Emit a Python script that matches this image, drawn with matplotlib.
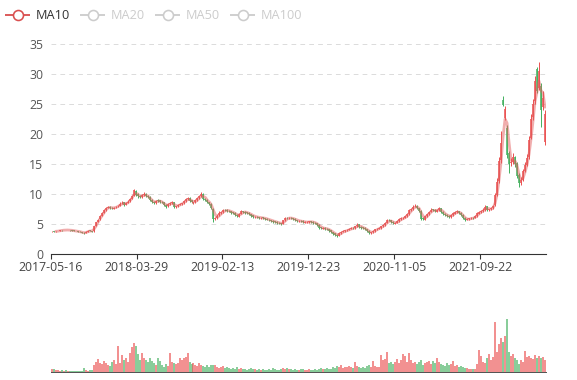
import matplotlib
matplotlib.use("Agg")
import matplotlib.pyplot as plt
import numpy as np
import pandas as pd

plt.rcParams['font.family'] = ['Open Sans', 'DejaVu Sans']
plt.rcParams['lines.scale_dashes'] = False

# ---------------- data (each candle ~ one trading week) ----------------
tick_labels = ['2017-05-16', '2018-03-29', '2019-02-13', '2019-12-23', '2020-11-05', '2021-09-22']
legend_names = ['MA10', 'MA20', 'MA50', 'MA100']
legend_active = [True, False, False, False]

open_ = [
    3.78, 3.8, 3.76, 3.82, 3.9, 3.97, 3.96, 4.02, 3.98, 4.0,
    3.93, 3.9, 3.84, 3.8, 3.72, 3.63, 3.55, 3.5, 3.72, 3.92,
    3.85, 3.8, 4.7, 5.4, 5.8, 6.4, 6.9, 7.35, 7.75, 7.9,
    7.75, 7.55, 7.8, 7.95, 8.05, 8.45, 8.6, 8.25, 8.55, 8.8,
    9.25, 9.7, 10.5, 9.95, 9.65, 9.45, 9.85, 10.05, 9.75, 9.55,
    9.05, 8.75, 8.45, 8.95, 8.95, 8.75, 8.65, 8.25, 7.95, 8.35,
    8.55, 8.65, 7.85, 7.95, 8.25, 8.35, 8.45, 8.85, 9.15, 9.35,
    8.95, 8.55, 8.65, 9.05, 9.35, 9.65, 10.05, 9.25, 9.05, 8.65,
    8.35, 7.5, 5.8, 6.05, 6.45, 6.85, 7.05, 7.35, 7.35, 7.25,
    7.15, 6.95, 6.85, 6.55, 6.25, 6.75, 7.15, 7.05, 6.95, 6.85,
    6.65, 6.45, 6.15, 6.25, 6.1, 5.95, 6.1, 5.95, 5.9, 5.75,
    5.65, 5.55, 5.45, 5.35, 5.25, 5.15, 5.05, 5.6, 6.05, 5.95,
    6.05, 5.95, 5.85, 5.6, 5.45, 5.55, 5.5, 5.25, 5.3, 5.35,
    5.45, 5.4, 5.25, 5.15, 4.85, 4.45, 4.25, 4.35, 4.25, 4.15,
    3.95, 3.65, 3.45, 3.25, 3.05, 3.45, 3.75, 3.85, 3.95, 4.05,
    4.2, 4.35, 4.3, 4.6, 4.95, 4.55, 4.45, 4.35, 4.15, 3.85,
    3.45, 3.65, 3.85, 4.15, 4.25, 4.35, 4.65, 4.85, 5.25, 5.7,
    5.65, 5.35, 5.05, 5.25, 5.45, 5.85, 5.95, 6.05, 6.3, 6.65,
    7.35, 7.45, 7.95, 8.05, 7.65, 7.25, 5.95, 5.75, 6.35, 6.6,
    7.05, 7.45, 7.35, 7.05, 7.35, 7.65, 7.05, 6.75, 6.55, 6.35,
    6.15, 6.45, 6.75, 7.05, 7.15, 6.85, 6.55, 6.05, 5.7, 5.85,
    5.95, 6.05, 6.05, 6.3, 6.75, 7.05, 7.15, 7.35, 7.95, 7.35,
    7.45, 7.65, 8.1, 9.9, 12.2, 15.6, 25.7, 22.7, 21.0, 16.8,
    15.2, 15.4, 16.1, 15.1, 13.2, 11.9, 12.4, 13.9, 14.9, 16.2,
    19.4, 22.8, 25.5, 30.9, 27.6, 28.0, 24.5, 18.6,
]
close = [
    3.8, 3.75, 3.8, 3.85, 3.95, 3.95, 4.0, 4.0, 4.0, 3.95,
    3.9, 3.85, 3.8, 3.75, 3.65, 3.55, 3.45, 3.7, 3.9, 3.85,
    3.72, 4.6, 5.3, 5.7, 6.3, 6.8, 7.3, 7.7, 7.85, 7.7,
    7.6, 7.75, 7.9, 8.0, 8.4, 8.55, 8.2, 8.5, 8.75, 9.2,
    9.6, 10.6, 9.9, 9.6, 9.5, 9.8, 10.0, 9.7, 9.5, 9.0,
    8.7, 8.5, 8.9, 8.9, 8.7, 8.6, 8.2, 7.9, 8.3, 8.5,
    8.6, 7.9, 7.9, 8.2, 8.3, 8.4, 8.8, 9.1, 9.3, 8.9,
    8.6, 8.6, 9.0, 9.3, 9.6, 10.0, 9.2, 9.0, 8.6, 8.3,
    7.6, 5.9, 6.0, 6.4, 6.8, 7.0, 7.3, 7.3, 7.2, 7.1,
    6.9, 6.8, 6.5, 6.3, 6.7, 7.1, 7.0, 6.9, 6.8, 6.6,
    6.4, 6.2, 6.2, 6.1, 6.0, 6.05, 5.95, 5.85, 5.75, 5.6,
    5.5, 5.4, 5.3, 5.2, 5.1, 5.0, 5.6, 5.95, 6.0, 6.0,
    5.95, 5.8, 5.6, 5.5, 5.5, 5.45, 5.3, 5.3, 5.35, 5.4,
    5.35, 5.2, 5.1, 4.8, 4.4, 4.3, 4.3, 4.2, 4.1, 3.9,
    3.6, 3.4, 3.2, 3.05, 3.5, 3.7, 3.8, 3.9, 4.0, 4.2,
    4.3, 4.3, 4.6, 4.9, 4.5, 4.4, 4.3, 4.1, 3.8, 3.5,
    3.6, 3.9, 4.1, 4.2, 4.4, 4.6, 4.8, 5.2, 5.6, 5.6,
    5.3, 5.1, 5.2, 5.5, 5.8, 5.9, 6.0, 6.3, 6.6, 7.3,
    7.5, 7.9, 8.0, 7.6, 7.2, 5.9, 5.8, 6.3, 6.6, 7.0,
    7.4, 7.3, 7.1, 7.4, 7.6, 7.0, 6.7, 6.5, 6.3, 6.2,
    6.5, 6.8, 7.0, 7.1, 6.8, 6.5, 6.0, 5.7, 5.8, 5.9,
    6.0, 6.0, 6.3, 6.8, 7.0, 7.1, 7.4, 7.9, 7.4, 7.4,
    7.6, 8.0, 9.8, 12.0, 15.5, 18.5, 24.8, 24.2, 16.5, 15.0,
    15.3, 16.2, 15.0, 13.0, 11.8, 12.3, 13.8, 14.8, 16.0, 19.0,
    22.5, 25.0, 28.8, 27.2, 30.5, 24.0, 26.0, 23.4,
]
high = [
    3.85, 3.84, 3.85, 3.9, 4.0, 4.02, 4.06, 4.08, 4.05, 4.04,
    3.98, 3.95, 3.9, 3.85, 3.78, 3.68, 3.6, 3.78, 4.0, 3.98,
    3.9, 4.7, 5.4, 5.9, 6.5, 7.0, 7.5, 7.9, 8.0, 8.05,
    7.9, 7.9, 8.05, 8.2, 8.6, 8.8, 8.7, 8.65, 8.95, 9.4,
    9.85, 10.9, 10.7, 10.1, 9.8, 10.0, 10.3, 10.15, 9.85, 9.65,
    9.15, 8.85, 9.05, 9.1, 9.05, 8.85, 8.75, 8.35, 8.45, 8.7,
    8.8, 8.7, 8.05, 8.35, 8.45, 8.55, 9.0, 9.3, 9.55, 9.45,
    9.05, 8.75, 9.15, 9.45, 9.8, 10.4, 10.15, 9.35, 9.15, 8.75,
    8.45, 7.6, 6.2, 6.6, 7.1, 7.2, 7.55, 7.5, 7.45, 7.35,
    7.25, 7.05, 6.95, 6.65, 6.85, 7.3, 7.25, 7.15, 7.05, 6.95,
    6.75, 6.55, 6.35, 6.35, 6.2, 6.2, 6.2, 6.05, 6.0, 5.85,
    5.75, 5.65, 5.55, 5.45, 5.35, 5.25, 5.75, 6.15, 6.2, 6.15,
    6.15, 6.05, 5.95, 5.7, 5.65, 5.65, 5.6, 5.45, 5.5, 5.55,
    5.55, 5.5, 5.35, 5.25, 4.95, 4.55, 4.45, 4.45, 4.35, 4.25,
    4.05, 3.75, 3.55, 3.3, 3.6, 3.85, 3.95, 4.05, 4.15, 4.35,
    4.45, 4.45, 4.75, 5.1, 5.05, 4.65, 4.55, 4.45, 4.25, 3.95,
    3.75, 4.05, 4.25, 4.35, 4.55, 4.75, 5.0, 5.4, 5.85, 5.9,
    5.75, 5.45, 5.35, 5.65, 5.95, 6.1, 6.2, 6.5, 6.85, 7.5,
    7.75, 8.1, 8.3, 8.15, 7.75, 7.35, 6.1, 6.45, 6.8, 7.2,
    7.6, 7.55, 7.45, 7.55, 7.85, 7.75, 7.15, 6.85, 6.65, 6.45,
    6.65, 6.95, 7.2, 7.3, 7.25, 6.95, 6.65, 6.15, 5.95, 6.05,
    6.15, 6.15, 6.45, 6.95, 7.2, 7.3, 7.6, 8.1, 8.05, 7.55,
    7.8, 8.2, 10.2, 12.6, 16.2, 20.5, 26.3, 24.6, 21.5, 17.2,
    16.0, 16.8, 16.4, 15.3, 13.5, 12.9, 14.2, 15.3, 16.6, 19.6,
    23.4, 25.8, 29.6, 31.2, 32.0, 28.5, 27.2, 24.0,
]
low = [
    3.72, 3.7, 3.72, 3.78, 3.86, 3.9, 3.92, 3.95, 3.94, 3.9,
    3.85, 3.8, 3.76, 3.7, 3.6, 3.5, 3.4, 3.45, 3.68, 3.8,
    3.65, 3.75, 4.6, 5.3, 5.7, 6.3, 6.8, 7.2, 7.6, 7.55,
    7.45, 7.5, 7.7, 7.8, 7.95, 8.3, 8.05, 8.1, 8.45, 8.7,
    9.1, 9.6, 9.7, 9.4, 9.3, 9.35, 9.7, 9.55, 9.35, 8.85,
    8.55, 8.35, 8.35, 8.75, 8.55, 8.45, 8.05, 7.75, 7.85, 8.25,
    8.4, 7.75, 7.7, 7.85, 8.1, 8.2, 8.35, 8.7, 9.0, 8.75,
    8.45, 8.4, 8.55, 8.9, 9.2, 9.5, 9.05, 8.85, 8.45, 8.15,
    7.45, 5.4, 5.6, 5.9, 6.35, 6.7, 6.9, 7.15, 7.05, 6.95,
    6.75, 6.65, 6.35, 6.15, 6.15, 6.65, 6.85, 6.75, 6.65, 6.45,
    6.25, 6.05, 6.05, 5.95, 5.85, 5.85, 5.8, 5.7, 5.6, 5.45,
    5.35, 5.25, 5.15, 5.05, 4.95, 4.85, 4.95, 5.5, 5.85, 5.85,
    5.8, 5.65, 5.45, 5.35, 5.35, 5.3, 5.15, 5.15, 5.2, 5.25,
    5.2, 5.05, 4.95, 4.65, 4.25, 4.15, 4.15, 4.05, 3.95, 3.75,
    3.45, 3.25, 3.05, 2.85, 2.95, 3.35, 3.65, 3.75, 3.85, 3.95,
    4.1, 4.15, 4.2, 4.5, 4.35, 4.25, 4.15, 3.95, 3.65, 3.35,
    3.35, 3.55, 3.75, 4.0, 4.15, 4.25, 4.55, 4.75, 5.15, 5.45,
    5.15, 4.95, 4.95, 5.15, 5.35, 5.7, 5.8, 5.95, 6.2, 6.55,
    7.2, 7.35, 7.8, 7.45, 7.0, 5.6, 5.6, 5.65, 6.2, 6.5,
    6.95, 7.15, 6.95, 6.95, 7.25, 6.85, 6.55, 6.35, 6.15, 6.05,
    6.05, 6.35, 6.65, 6.9, 6.65, 6.35, 5.85, 5.55, 5.6, 5.75,
    5.85, 5.85, 5.95, 6.2, 6.65, 6.9, 7.05, 7.25, 7.25, 7.2,
    7.3, 7.5, 8.0, 9.7, 11.9, 15.2, 24.6, 22.3, 16.0, 13.5,
    14.6, 15.0, 14.5, 12.6, 11.2, 11.5, 12.2, 13.6, 14.6, 15.9,
    19.1, 22.3, 25.0, 26.8, 27.3, 21.2, 24.0, 18.2,
]
volume = [
    3, 3, 2, 2, 1, 2, 1, 2, 1, 1,
    1, 1, 1, 1, 1, 1, 4, 2, 1, 2,
    2, 7, 10, 13, 9, 8, 11, 9, 7, 6,
    10, 12, 8, 26, 9, 17, 12, 14, 10, 19,
    25, 29, 26, 18, 12, 19, 14, 12, 10, 14,
    11, 9, 7, 14, 11, 7, 5, 8, 6, 19,
    10, 9, 8, 9, 14, 12, 14, 15, 19, 10,
    8, 9, 7, 6, 9, 7, 6, 5, 7, 5,
    7, 7, 7, 5, 4, 5, 6, 4, 5, 4,
    3, 4, 3, 5, 3, 4, 3, 3, 2, 3,
    4, 3, 3, 2, 3, 2, 3, 2, 2, 3,
    2, 4, 3, 2, 2, 3, 4, 3, 4, 3,
    3, 2, 3, 2, 2, 3, 3, 2, 2, 3,
    2, 2, 3, 2, 3, 4, 3, 3, 4, 3,
    3, 5, 4, 6, 5, 7, 4, 5, 5, 6,
    5, 4, 10, 6, 5, 4, 5, 4, 6, 7,
    5, 11, 6, 5, 5, 17, 12, 13, 20, 9,
    10, 8, 10, 13, 9, 12, 18, 16, 10, 19,
    12, 9, 10, 8, 10, 12, 7, 9, 10, 11,
    8, 11, 9, 14, 10, 8, 7, 6, 9, 7,
    8, 11, 6, 7, 5, 6, 5, 4, 4, 3,
    3, 3, 3, 8, 22, 16, 10, 9, 14, 18,
    12, 15, 50, 20, 28, 34, 30, 36, 53, 20,
    16, 18, 14, 12, 8, 12, 10, 21, 15, 16,
    14, 13, 17, 14, 16, 14, 15, 12,
]

# ---------------- figure ----------------
W, H = 577, 380
fig = plt.figure(figsize=(W / 100, H / 100), dpi=100)
PT = 72.0 / 100.0  # points per pixel

L, R = 50.7, 546.0
ax = fig.add_axes([L / W, 1 - 254 / H, (R - L) / W, (254 - 44) / H])
vax = fig.add_axes([L / W, 1 - 372 / H, (R - L) / W, (372 - 300) / H])

o = np.array(open_, dtype=float)
c = np.array(close, dtype=float)
hi = np.array(high, dtype=float)
lo = np.array(low, dtype=float)
vol = np.array(volume, dtype=float)
n = len(c)
x = np.arange(n)

UP, DOWN = '#eb5454', '#47b262'
cols = [UP if cc >= oo else DOWN for oo, cc in zip(o, c)]

# candles: wick + body as line collections
ax.vlines(x, lo, hi, colors=cols, linewidth=1.0 * PT, zorder=2)
body_lo = np.minimum(o, c)
body_hi = np.maximum(np.maximum(o, c), body_lo + 0.08)
ax.vlines(x, body_lo, body_hi, colors=cols, linewidth=1.6 * PT, zorder=2)

ma = pd.Series(c).rolling(3).mean()
ax.plot(x, ma, color='#e35d5d', lw=2.8 * PT, alpha=0.5, zorder=3,
        solid_capstyle='round', solid_joinstyle='round')

ax.set_xlim(-0.5, n - 0.5)
ax.set_ylim(0, 35)
ax.set_yticks(np.arange(0, 36, 5))
ax.yaxis.grid(True, color='#dcdcdc', lw=1.0 * PT, linestyle=(0, (3.4, 3.0)))
ax.set_axisbelow(True)
for s in ['top', 'right', 'left']:
    ax.spines[s].set_visible(False)
ax.spines['bottom'].set_color('#333333')
ax.spines['bottom'].set_linewidth(1.1 * PT)
ax.spines['bottom'].set_zorder(5)

tick_pos = [-0.5 + 43 * k for k in range(len(tick_labels))]
ax.set_xticks(tick_pos)
ax.set_xticklabels(tick_labels)
ax.tick_params(axis='x', length=5 * PT, width=1.1 * PT, color='#333333', pad=1.5,
               labelsize=8.8, labelcolor='#444444')
ax.tick_params(axis='y', length=0, pad=5.5, labelsize=8.8, labelcolor='#555555')

# volume bars
vax.vlines(x, 0, vol, colors=cols, linewidth=1.5 * PT, alpha=0.85)
vax.set_xlim(-0.5, n - 0.5)
vax.set_ylim(0, 72)
for s in ['top', 'right', 'left']:
    vax.spines[s].set_visible(False)
vax.spines['bottom'].set_color('#555555')
vax.spines['bottom'].set_linewidth(1.0 * PT)
vax.set_xticks([])
vax.set_yticks([])
vax.patch.set_alpha(0)

# legend (overlay in pixel coordinates)
lax = fig.add_axes([0, 0, 1, 1])
lax.set_xlim(0, W)
lax.set_ylim(H, 0)
lax.axis('off')
lax.patch.set_alpha(0)
item_x = [5, 80, 155, 230]
for name, act, x0 in zip(legend_names, legend_active, item_x):
    col = '#d94f4f' if act else '#cccccc'
    tcol = '#333333' if act else '#cccccc'
    lax.plot([x0, x0 + 25], [15, 15], color=col, lw=1.3 * PT * 1.4, solid_capstyle='butt')
    lax.plot([x0 + 12.5], [15], marker='o', ms=10 * PT, mfc='white', mec=col, mew=1.6 * PT)
    lax.text(x0 + 31, 15.5, name, fontsize=9.2, color=tcol, va='center', ha='left')

fig.savefig('out.png', dpi=100)
